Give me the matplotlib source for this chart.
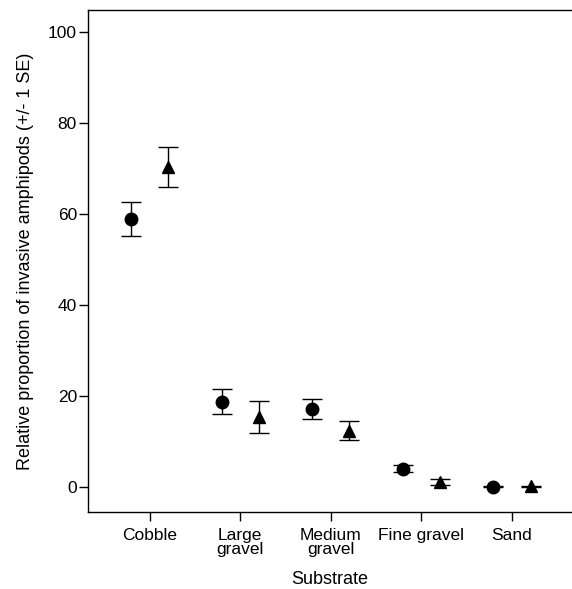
import matplotlib
matplotlib.use("Agg")
import matplotlib.pyplot as plt
import numpy as np

plt.rcParams['font.family'] = ['Liberation Sans', 'DejaVu Sans']

substrates = ['Cobble', 'Large\ngravel', 'Medium\ngravel', 'Fine gravel', 'Sand']
circle_mean = [58.9, 18.7, 17.1, 4.0, 0.0]
circle_se = [3.7, 2.7, 2.25, 0.85, 0.15]
triangle_mean = [70.3, 15.3, 12.3, 1.1, 0.1]
triangle_se = [4.35, 3.55, 2.05, 0.7, 0.15]

x = np.arange(1, len(substrates) + 1)
offset = 0.205

fig = plt.figure(figsize=(5.72, 5.89), dpi=100)
ax = fig.add_axes([88 / 572, 1 - 512 / 589, 1 - 88 / 572, (512 - 10) / 589])

ax.errorbar(x - offset, circle_mean, yerr=circle_se, fmt='o', color='black',
            markersize=9, capsize=7.2, elinewidth=1.0, capthick=1.0)
ax.errorbar(x + offset, triangle_mean, yerr=triangle_se, fmt='^', color='black',
            markersize=9, capsize=7.2, elinewidth=1.0, capthick=1.0)

ax.set_xlim(0.319, 5.662)
ax.set_ylim(-5.56, 104.8)
ax.set_xticks(x)
ax.set_xticklabels(substrates, fontsize=12.5, linespacing=0.95)
ax.set_yticks([0, 20, 40, 60, 80, 100])
ax.tick_params(axis='both', labelsize=12.5, length=6.5, width=1.0, direction='out')
ax.tick_params(axis='y', pad=1.5)
ax.tick_params(axis='x', pad=5)
ax.spines['right'].set_visible(False)
for s in ['left', 'top', 'bottom']:
    ax.spines[s].set_linewidth(1.0)

ax.set_xlabel('Substrate', fontsize=13, labelpad=9.5)
ax.set_ylabel('Relative proportion of invasive amphipods (+/- 1 SE)', fontsize=13, labelpad=10)

fig.savefig('out.png', dpi=100)
